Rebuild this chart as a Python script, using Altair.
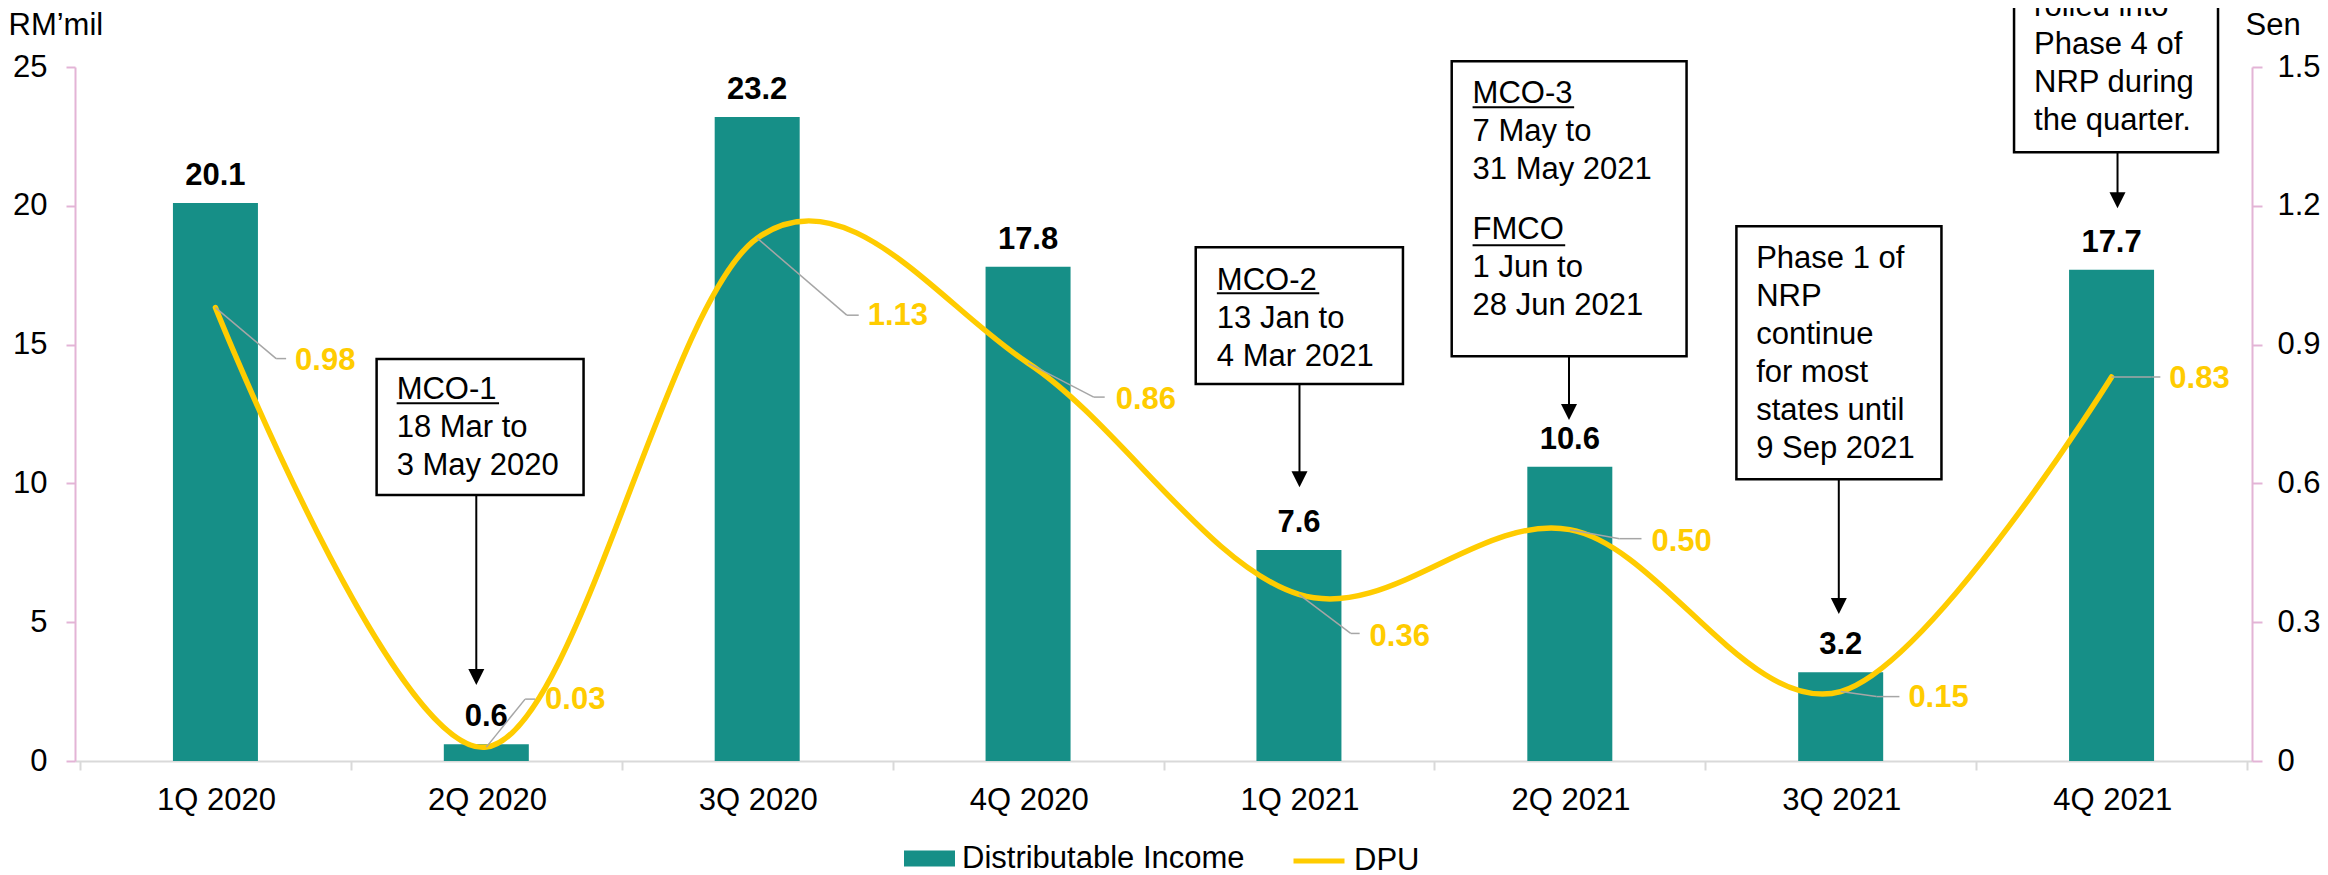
import json
import pandas as pd
import altair as alt

# ---------------- data ----------------
CATEGORIES = ["1Q 2020", "2Q 2020", "3Q 2020", "4Q 2020",
              "1Q 2021", "2Q 2021", "3Q 2021", "4Q 2021"]
DIST_INCOME = [20.1, 0.6, 23.2, 17.8, 7.6, 10.6, 3.2, 17.7]
DPU = [0.98, 0.03, 1.13, 0.86, 0.36, 0.50, 0.15, 0.83]
LEFT_TICKS = [0, 5, 10, 15, 20, 25]
RIGHT_TICKS = [0, 0.3, 0.6, 0.9, 1.2, 1.5]
SERIES = ["Distributable Income", "DPU"]

# ---------------- label layout (pixel offsets of DPU labels from their points) ----------------
LABEL_DX = [80, 59, 111, 88, 71, 82, 68, 58]
LABEL_DY = [53, -47, 78, 37, 43, 12, 6, 2]
ELBOW_DX = [61, 39, 90, 66, 52, 50, 36, 40]
ELBOW_DY = [51, -48, 77, 34, 39, 9, 5, 0]
END_DX = [71, 49, 102, 77, 61, 72, 59, 49]

# ---------------- callouts (x in category units, y in RM'mil units) ----------------
BOX_X0 = [0.595, 3.619, 4.564, 5.615, 6.640]
BOX_X1 = [1.359, 4.384, 5.431, 6.372, 7.393]
BOX_TOP = [14.48, 18.51, 25.21, 19.26, 29.60]
BOX_BOTTOM = [9.58, 13.58, 14.58, 10.15, 21.93]
NOTE_TEXT = ["MCO-1\n18 Mar to\n3 May 2020",
             "MCO-2\n13 Jan to\n4 Mar 2021",
             "MCO-3\n7 May to\n31 May 2021",
             "FMCO\n1 Jun to\n28 Jun 2021",
             "Phase 1 of\nNRP\ncontinue\nfor most\nstates until\n9 Sep 2021",
             "All states\nrolled into\nPhase 4 of\nNRP during\nthe quarter."]
NOTE_X = [0.669, 3.697, 4.641, 4.641, 5.688, 6.714]
NOTE_Y = [13.04, 16.96, 23.69, 18.80, 17.75, 28.19]
UNDER_X0 = [0.669, 3.697, 4.641, 4.641]
UNDER_X1 = [1.047, 4.075, 5.016, 4.983]
UNDER_Y = [12.89, 16.85, 23.55, 18.58]
ARROW_X = [0.963, 4.002, 4.997, 5.993, 7.022]
ARROW_FROM = BOX_BOTTOM
ARROW_HEAD = [3.03, 10.15, 12.57, 5.58, 20.20]

# ---------------- styling ----------------
W, H = 2177, 694
PX_PER_CAT = W / len(CATEGORIES)
RIGHT_PER_PX = RIGHT_TICKS[-1] / H
TEAL = "#168F87"
YELLOW = "#FFCC00"
PINK = "#E3B4D6"
AXIS_GRAY = "#D9D9D9"
LEADER_GRAY = "#A6A6A6"
FONT = "Liberation Sans"
FS = 31

df = pd.DataFrame({
    "idx": list(range(len(CATEGORIES))),
    "category": CATEGORIES,
    "income": DIST_INCOME,
    "dpu": DPU,
    "ldx": LABEL_DX, "ldy": LABEL_DY,
    "edx": ELBOW_DX, "edy": ELBOW_DY, "endx": END_DX,
})


def XS():
    return alt.Scale(domain=[-0.5, len(CATEGORIES) - 0.5], nice=False, zero=False)


def YL():
    return alt.Scale(domain=[LEFT_TICKS[0], LEFT_TICKS[-1]], nice=False)


def YR():
    return alt.Scale(domain=[RIGHT_TICKS[0], RIGHT_TICKS[-1]], nice=False)


x_axis = alt.Axis(
    values=[i - 0.5 for i in range(len(CATEGORIES) + 1)],
    labelExpr=f"datum.value < {len(CATEGORIES) - 1} ? {json.dumps(CATEGORIES)}[datum.value + 0.5] : ''",
    labelOffset=PX_PER_CAT / 2, labelFlush=False, labelOverlap=False,
    labelFontSize=FS, labelFont=FONT, labelColor="black", labelPadding=15,
    domainColor=AXIS_GRAY, domainWidth=2, tickColor=AXIS_GRAY, tickWidth=2, tickSize=9,
    grid=False, title=None,
)
yl_axis = alt.Axis(
    orient="left", values=LEFT_TICKS, format="d", grid=False,
    domainColor=PINK, domainWidth=2, tickColor=PINK, tickWidth=2, tickSize=9,
    labelPadding=19, labelFontSize=FS, labelFont=FONT, labelColor="black",
    title="RM’mil", titleAngle=0, titleAlign="left", titleBaseline="alphabetic",
    titleX=-67, titleY=-33, titleFontSize=FS, titleFont=FONT,
    titleFontWeight="normal", titleColor="black",
)
yr_axis = alt.Axis(
    orient="right", values=RIGHT_TICKS, grid=False,
    labelExpr="datum.value == 0 ? '0' : format(datum.value, '.1f')",
    domainColor=PINK, domainWidth=2, tickColor=PINK, tickWidth=2, tickSize=10,
    labelPadding=15, labelFontSize=FS, labelFont=FONT, labelColor="black",
    title="Sen", titleAngle=0, titleAlign="left", titleBaseline="alphabetic",
    titleX=-7, titleY=-33, titleFontSize=FS, titleFont=FONT,
    titleFontWeight="normal", titleColor="black",
)

base = alt.Chart(df)

bars = base.transform_calculate(series=f"'{SERIES[0]}'").mark_bar(size=85).encode(
    x=alt.X("idx:Q", scale=XS(), axis=x_axis),
    y=alt.Y("income:Q", scale=YL(), axis=yl_axis),
    color=alt.Color("series:N", scale=alt.Scale(domain=[SERIES[0]], range=[TEAL]),
                    legend=alt.Legend(orient="none", legendX=829, legendY=766, title=None,
                                      symbolType="M-1,-0.314H1V0.314H-1Z", symbolSize=2601,
                                      symbolStrokeWidth=0, labelFontSize=FS, labelFont=FONT,
                                      labelColor="black", labelOffset=7, labelLimit=0,
                                      padding=0)),
)
bar_labels = base.mark_text(font=FONT, fontSize=FS, fontWeight="bold", color="black",
                            baseline="alphabetic", align="center", dy=-18).encode(
    x=alt.X("idx:Q", scale=XS()),
    y=alt.Y("income:Q", scale=YL(), axis=None),
    text=alt.Text("income:Q", format=".1f"),
)

boxes_df = pd.DataFrame({"x0": BOX_X0, "x1": BOX_X1, "top": BOX_TOP, "bottom": BOX_BOTTOM})
boxes = alt.Chart(boxes_df).mark_rect(fill="white", stroke="black", strokeWidth=2.5).encode(
    x=alt.X("x0:Q", scale=XS()), x2="x1:Q",
    y=alt.Y("top:Q", scale=YL(), axis=None), y2="bottom:Q",
)
notes_df = pd.DataFrame({"x": NOTE_X, "y": NOTE_Y, "t": NOTE_TEXT})
notes = alt.Chart(notes_df).mark_text(font=FONT, fontSize=FS, color="black", align="left",
                                      baseline="alphabetic", lineBreak="\n", lineHeight=38).encode(
    x=alt.X("x:Q", scale=XS()),
    y=alt.Y("y:Q", scale=YL(), axis=None),
    text="t:N",
)
under_df = pd.DataFrame({"x0": UNDER_X0, "x1": UNDER_X1, "y": UNDER_Y})
underlines = alt.Chart(under_df).mark_rule(color="black", strokeWidth=2).encode(
    x=alt.X("x0:Q", scale=XS()), x2="x1:Q",
    y=alt.Y("y:Q", scale=YL(), axis=None),
)
arrow_df = pd.DataFrame({"x": ARROW_X, "y0": ARROW_FROM, "y1": ARROW_HEAD})
arrow_lines = alt.Chart(arrow_df).mark_rule(color="black", strokeWidth=2).encode(
    x=alt.X("x:Q", scale=XS()),
    y=alt.Y("y0:Q", scale=YL(), axis=None), y2="y1:Q",
)
arrow_heads = alt.Chart(arrow_df).mark_point(shape="M-1,-1L1,-1L0,1Z", size=256, filled=True,
                                             color="black", opacity=1, strokeWidth=0).encode(
    x=alt.X("x:Q", scale=XS()),
    y=alt.Y("y1:Q", scale=YL(), axis=None),
)

line = base.transform_calculate(series=f"'{SERIES[1]}'").mark_line(
    interpolate="cardinal", strokeWidth=5.5, strokeCap="round").encode(
    x=alt.X("idx:Q", scale=XS()),
    y=alt.Y("dpu:Q", scale=YR(), axis=yr_axis),
    stroke=alt.Stroke("series:N", scale=alt.Scale(domain=[SERIES[1]], range=[YELLOW]),
                      legend=alt.Legend(orient="none", legendX=1216, legendY=766, title=None,
                                        symbolType="stroke", symbolSize=2601, symbolStrokeWidth=5,
                                        labelFontSize=FS, labelFont=FONT, labelColor="black",
                                        labelOffset=7, labelLimit=0, padding=0)),
)
lead = base.transform_calculate(
    ex=f"datum.idx + datum.edx / {PX_PER_CAT}",
    ey=f"datum.dpu - datum.edy * {RIGHT_PER_PX}",
    fx=f"datum.idx + datum.endx / {PX_PER_CAT}",
)
lead1 = lead.mark_rule(color=LEADER_GRAY, strokeWidth=1.5).encode(
    x=alt.X("idx:Q", scale=XS()), x2="ex:Q",
    y=alt.Y("dpu:Q", scale=YR(), axis=None), y2="ey:Q",
)
lead2 = lead.mark_rule(color=LEADER_GRAY, strokeWidth=1.5).encode(
    x=alt.X("ex:Q", scale=XS()), x2="fx:Q",
    y=alt.Y("ey:Q", scale=YR(), axis=None),
)
dpu_labels = base.transform_calculate(
    lx=f"datum.idx + datum.ldx / {PX_PER_CAT}",
    ly=f"datum.dpu - datum.ldy * {RIGHT_PER_PX}",
).mark_text(font=FONT, fontSize=FS, fontWeight="bold", color=YELLOW,
            align="left", baseline="middle").encode(
    x=alt.X("lx:Q", scale=XS()),
    y=alt.Y("ly:Q", scale=YR(), axis=None),
    text=alt.Text("dpu:Q", format=".2f"),
)

chart = alt.layer(
    bars, bar_labels, boxes, notes, underlines, arrow_lines, arrow_heads,
    line, lead1, lead2, dpu_labels,
).resolve_scale(
    y="independent", color="independent", stroke="independent"
).resolve_axis(
    y="independent"
).properties(
    width=W, height=H,
    autosize=alt.AutoSizeParams(type="none"),
    padding={"left": 67, "top": 59, "right": 68, "bottom": 114},
).configure(font=FONT).configure_view(stroke=None)

chart.save("out.html", embed_options={"renderer": "svg", "actions": False})
